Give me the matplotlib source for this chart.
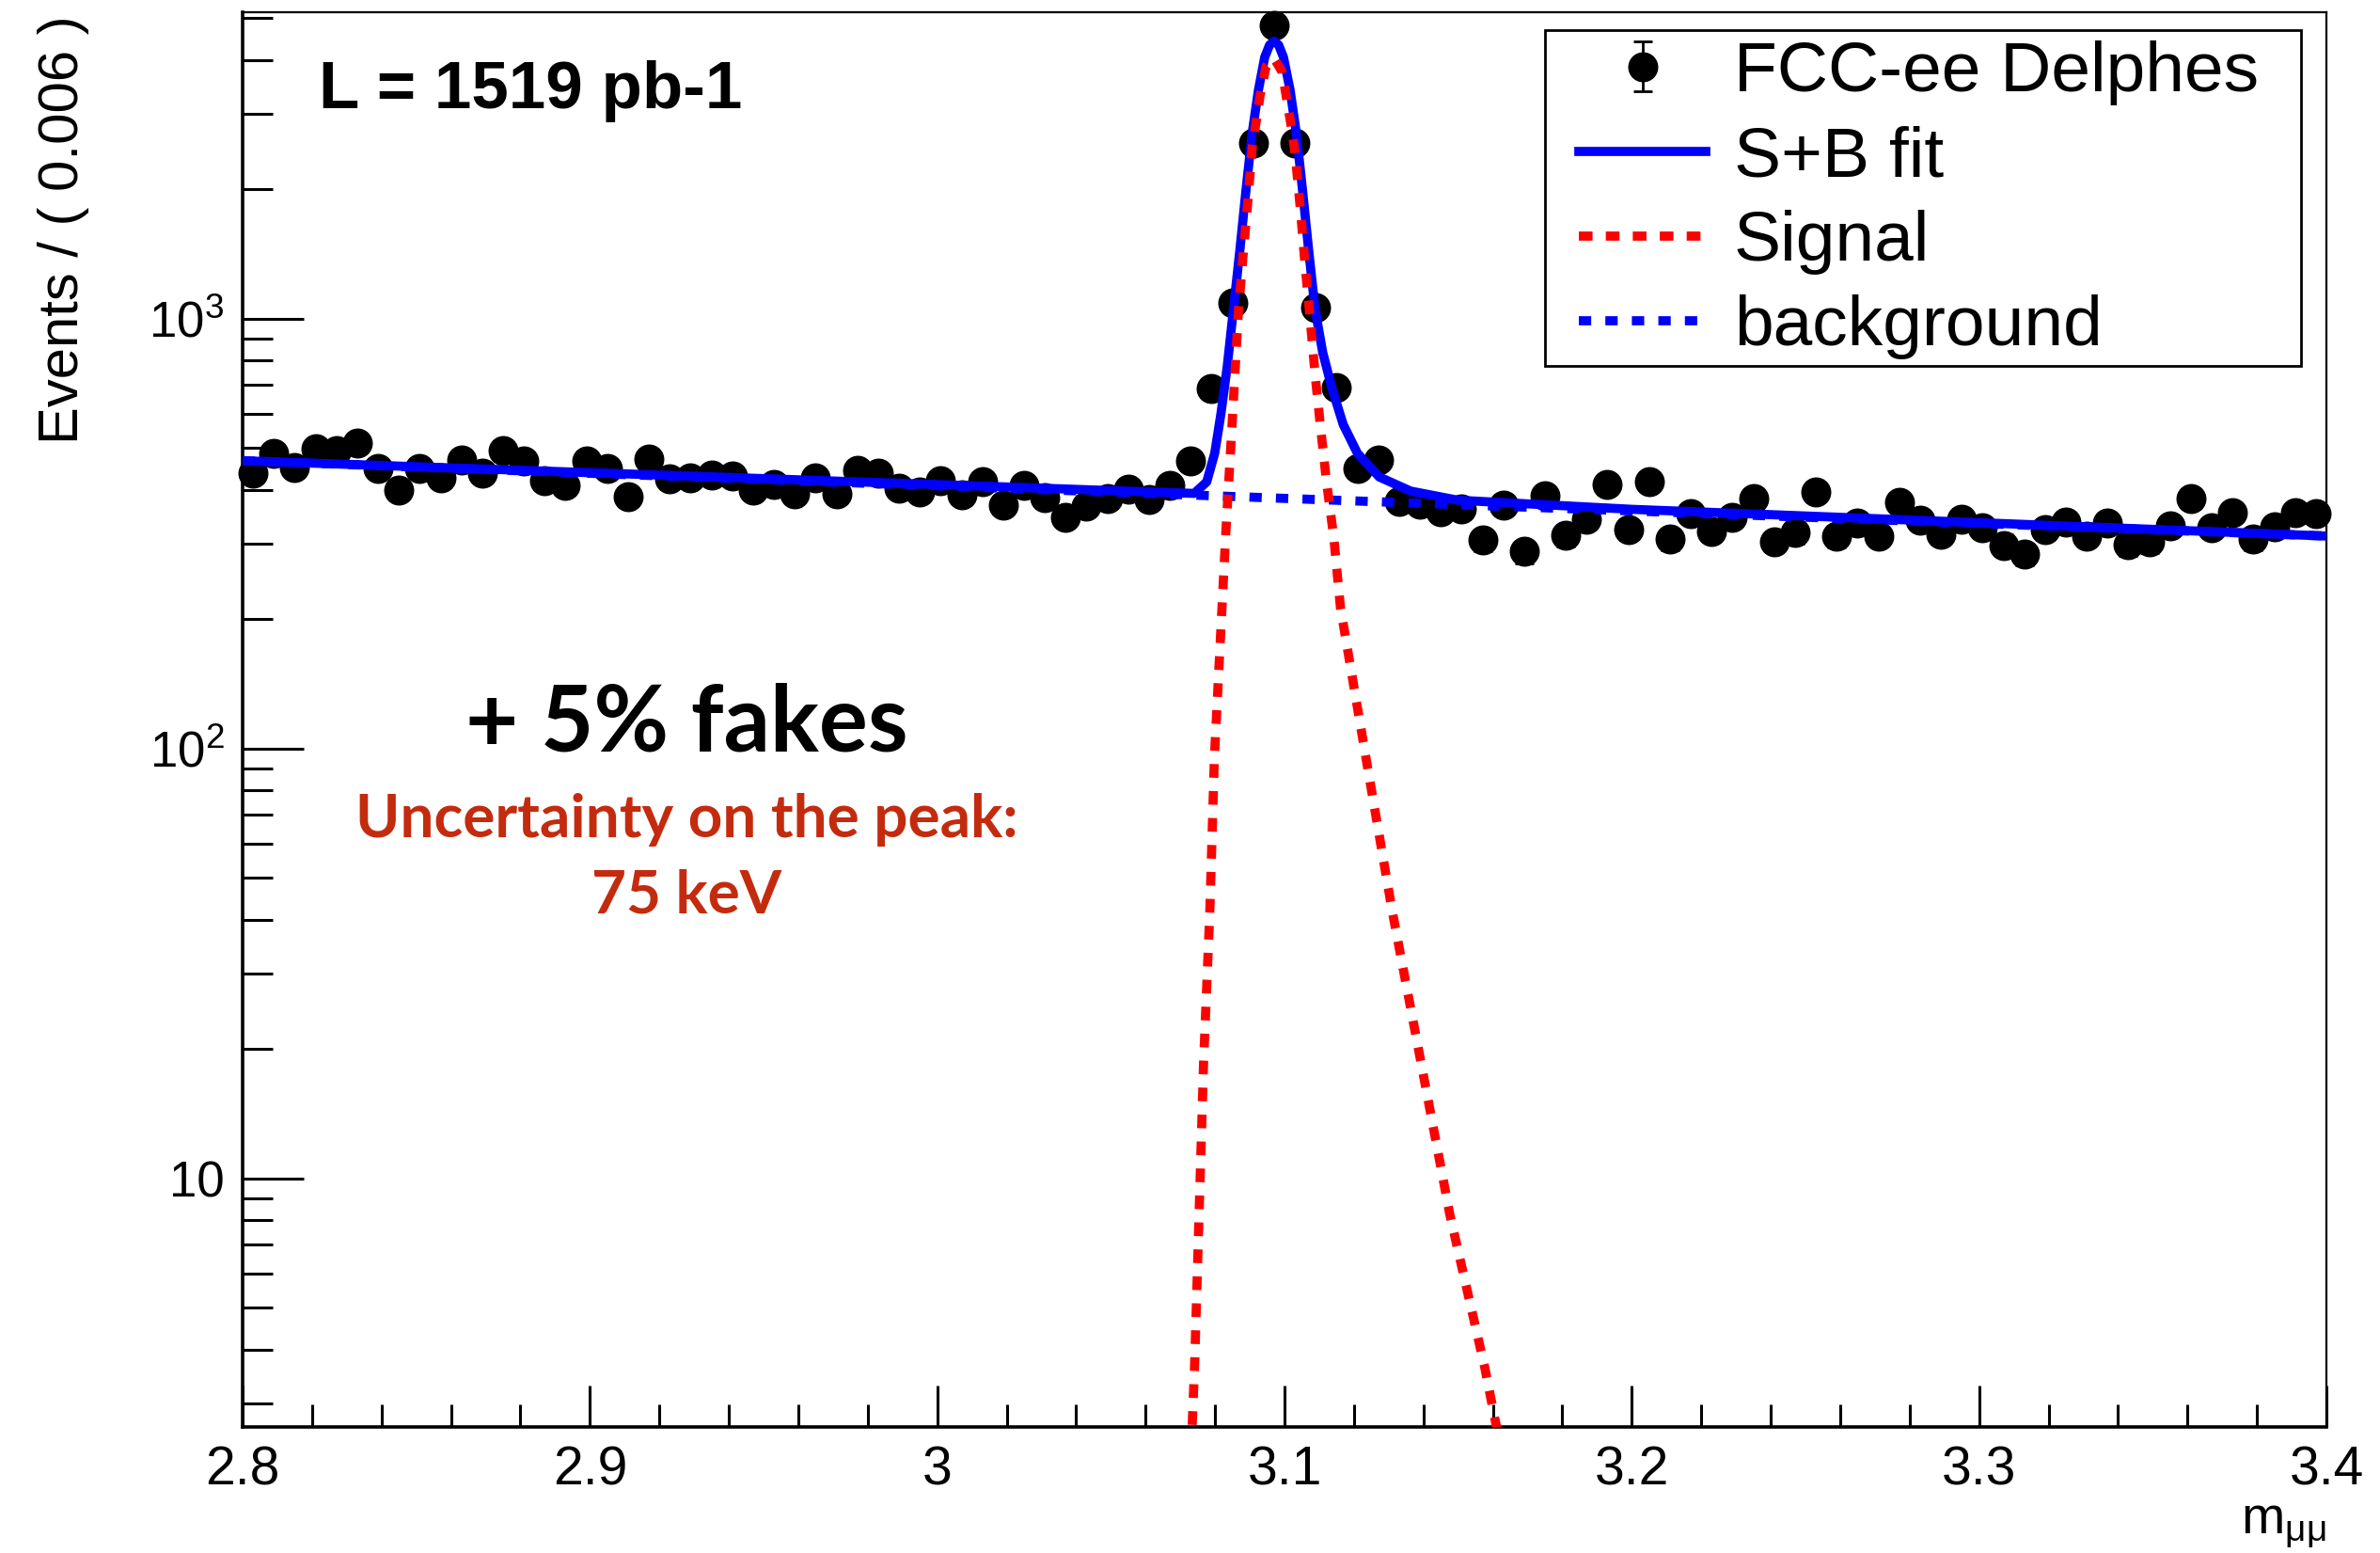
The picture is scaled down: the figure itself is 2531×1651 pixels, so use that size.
#!/usr/bin/env python3
"""
J/psi -> mumu mass fit, FCC-ee Delphes sample with 5% fakes (log scale)
"""

import numpy as np
import matplotlib
matplotlib.use('Agg')
import matplotlib.pyplot as plt
from matplotlib.patches import Rectangle
from matplotlib.container import ErrorbarContainer
from matplotlib.legend_handler import HandlerErrorbar
from matplotlib.ticker import MultipleLocator, FixedLocator, FixedFormatter, LogLocator, NullFormatter, FuncFormatter

plt.rcParams['font.family'] = ['Liberation Sans', 'DejaVu Sans']
plt.rcParams['mathtext.fontset'] = 'custom'
plt.rcParams['mathtext.rm'] = 'Liberation Sans'
plt.rcParams['mathtext.it'] = 'Liberation Sans:italic'
plt.rcParams['mathtext.bf'] = 'Liberation Sans:bold'

# Histogram: 100 bins of 0.006 between 2.8 and 3.4
bin_lo = 2.8
bin_width = 0.006
counts = [437, 485, 450, 497, 493, 513, 448, 400, 448, 426,
          469, 437, 493, 466, 420, 410, 467, 448, 385, 471,
          423, 426, 433, 431, 400, 412, 392, 426, 392, 444,
          437, 403, 395, 419, 390, 417, 369, 409, 383, 345,
          367, 382, 402, 380, 409, 467, 689, 1086, 2566, 4800,
          2566, 1061, 690, 447, 468, 375, 370, 356, 360, 305,
          369, 287, 387, 313, 341, 412, 323, 417, 307, 352,
          320, 345, 381, 303, 318, 395, 311, 334, 312, 374,
          340, 315, 342, 326, 297, 283, 323, 337, 312, 335,
          298, 302, 330, 381, 326, 354, 307, 328, 354, 352]

# S+B fit curve
fit_x = [2.800, 3.0740, 3.0776, 3.0799, 3.0817, 3.0835, 3.0853, 3.0871, 3.0889,
         3.0907, 3.0925, 3.0943, 3.0957, 3.0970, 3.0983, 3.0997, 3.1016, 3.1034,
         3.1052, 3.1070, 3.1088, 3.1110, 3.1137, 3.1169, 3.1210, 3.1273, 3.1363,
         3.1499, 3.2000, 3.400]
fit_y = [467, 392, 417, 486, 601, 773, 1052, 1431, 1986,
         2704, 3404, 4055, 4330, 4420, 4330, 4055, 3404, 2704,
         1986, 1431, 1052, 834, 687, 567, 486, 428, 397,
         378, 360, 312]

# Signal component
sig_x = [3.0728, 3.0741, 3.0754, 3.0767, 3.0785, 3.0798, 3.0820, 3.0831, 3.0840,
         3.0849, 3.0858, 3.0867, 3.0880, 3.0894, 3.0907, 3.0919, 3.0930, 3.0947,
         3.0970, 3.0993, 3.1007, 3.1020, 3.1031, 3.1046, 3.1059, 3.1074, 3.1088,
         3.1104, 3.1121, 3.1142, 3.1161, 3.1235, 3.1310, 3.1393, 3.1476, 3.1576,
         3.1640]
sig_y = [2.0, 3.65, 8.24, 18.6, 41.9, 94.6, 213, 318, 425,
         567, 764, 1031, 1382, 1856, 2503, 2891, 3311, 3864,
         4030, 3753, 3214, 2780, 2407, 1786, 1337, 995, 743,
         556, 417, 309, 213, 94.6, 41.9, 18.6, 8.24, 3.65,
         2.0]

# Background component
bkg_x = [2.8, 3.4]
bkg_y = [467, 312]

centers = bin_lo + bin_width * (np.arange(len(counts)) + 0.5)
counts = np.array(counts, dtype=float)

W, H = 2531, 1651
fig = plt.figure(figsize=(W / 100, H / 100), dpi=100)
ax = fig.add_axes([258 / W, 1 - 1517 / H, (2474 - 258) / W, (1517 - 13) / H])

data = ax.errorbar(centers, counts, yerr=np.sqrt(counts), fmt='o', color='black',
                   ms=22, elinewidth=2, capsize=7, capthick=2, zorder=2, clip_on=False,
                   label='FCC-ee Delphes')
bkg, = ax.plot(bkg_x, bkg_y, color='#0000ff', lw=7, linestyle=(0, (1.35, 1.55)),
               dash_capstyle='butt', zorder=3, label='background')
fit, = ax.plot(fit_x, fit_y, color='#0000ff', lw=7, solid_joinstyle='round', zorder=4, label='S+B fit')
sig, = ax.plot(sig_x, sig_y, color='#ff0000', lw=7, linestyle=(0, (1.5, 1.45)),
               dash_capstyle='butt', zorder=5, label='Signal')

ax.set_xlim(2.8, 3.4)
ax.set_yscale('log')
ax.set_ylim(2.64, 5160)

ax.xaxis.set_major_locator(MultipleLocator(0.1))
ax.xaxis.set_minor_locator(MultipleLocator(0.02))
ax.xaxis.set_major_formatter(FuncFormatter(lambda v, p: f'{v:g}'))
ax.yaxis.set_major_locator(FixedLocator([10, 100, 1000]))
ax.yaxis.set_major_formatter(FixedFormatter(['10', '$10^{2}$', '$10^{3}$']))
ax.yaxis.set_minor_locator(LogLocator(base=10, subs=np.arange(2, 10)))
ax.yaxis.set_minor_formatter(NullFormatter())

ax.tick_params(axis='both', which='both', direction='in', top=False, right=False, width=2.2)
ax.tick_params(axis='x', which='major', length=32, labelsize=41, pad=14)
ax.tick_params(axis='x', which='minor', length=17)
ax.tick_params(axis='y', which='major', length=47, labelsize=38, pad=14)
ax.tick_params(axis='y', which='minor', length=23)
for side in ['left', 'bottom']:
    ax.spines[side].set_linewidth(2.6)
for side in ['top', 'right']:
    ax.spines[side].set_linewidth(1.6)

fig.text(68 / W, 1 - 16 / H, 'Events / ( 0.006 )', rotation=90, ha='center', va='top', fontsize=43)
fig.text(2474 / W, 1 - 1622 / H, r'm$_{\mathrm{\mu\mu}}$', ha='right', va='center', fontsize=40)

fig.text(339 / W, 1 - 97 / H, 'L = 1519 pb-1', ha='left', va='center', fontsize=51, fontweight='bold')
fig.text(730 / W, 1 - 770 / H, '+ 5% fakes', ha='center', va='center', fontsize=70,
         family='Lato', fontweight='bold')
fig.text(730 / W, 1 - 872 / H, 'Uncertainty on the peak:', ha='center', va='center', fontsize=46,
         family='Lato', fontweight='bold', color='#c42b0e')
fig.text(730 / W, 1 - 952 / H, '75 keV', ha='center', va='center', fontsize=46,
         family='Lato', fontweight='bold', color='#c42b0e')

# legend box drawn separately so the padding can differ per side
ax.add_patch(Rectangle((1643 / W, 1 - 389 / H), (2447 - 1643) / W, (389 - 32) / H,
                       transform=fig.transFigure, facecolor='white', edgecolor='black',
                       linewidth=2, zorder=9, clip_on=False))
leg = ax.legend([data, fit, sig, bkg], ['FCC-ee Delphes', 'S+B fit', 'Signal', 'background'],
                handler_map={ErrorbarContainer: HandlerErrorbar(xerr_size=0.35)},
                loc='upper left', bbox_to_anchor=(1679 / W, 1 - 43 / H),
                bbox_transform=fig.transFigure, borderaxespad=0, fontsize=54,
                frameon=False, handlelength=1.8, handletextpad=0.4, labelspacing=0.28, borderpad=0)
leg.set_zorder(10)

plt.savefig('out.png', dpi=100)
